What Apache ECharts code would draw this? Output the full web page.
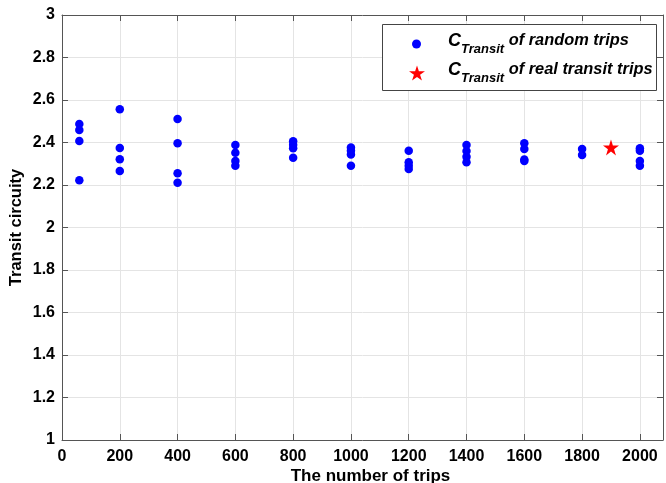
<!DOCTYPE html>
<html><head><meta charset="utf-8">
<script src="https://cdn.jsdelivr.net/npm/echarts@6/dist/echarts.min.js"></script>
<style>html,body{margin:0;padding:0;background:#fff}#c{width:666px;height:483px}</style>
</head><body><div id="c"></div>
<script>
const tripCounts = [60, 200, 400, 600, 800, 1000, 1200, 1400, 1600, 1800, 2000];
const randomValues = [
  [2.487, 2.459, 2.407, 2.222],
  [2.556, 2.374, 2.321, 2.266],
  [2.511, 2.396, 2.255, 2.211],
  [2.388, 2.352, 2.313, 2.291],
  [2.406, 2.39, 2.373, 2.328],
  [2.376, 2.361, 2.344, 2.291],
  [2.361, 2.307, 2.291, 2.275],
  [2.388, 2.36, 2.333, 2.307],
  [2.396, 2.369, 2.32, 2.313],
  [2.369, 2.341],
  [2.373, 2.361, 2.313, 2.291]
];
const realTrips = [1900];
const realValues = [2.377];
const xTicks = [0, 200, 400, 600, 800, 1000, 1200, 1400, 1600, 1800, 2000];

const randomData = [];
tripCounts.forEach((t, i) => randomValues[i].forEach(v => randomData.push([t, v])));
const realData = realTrips.map((t, i) => [t, realValues[i]]);

const star = 'path://M50,0 L61.8,36.3 L100,36.3 L69.1,58.8 L80.9,95.1 L50,72.7 L19.1,95.1 L30.9,58.8 L0,36.3 L38.2,36.3 Z';
const font = 'Liberation Sans, Arial, sans-serif';
const frame = '#555';
const chart = echarts.init(document.getElementById('c'));
const labelStyle = {color: '#000', fontWeight: 'bold', fontSize: 16, fontFamily: font};
const rich = {
  c: {fontSize: 18, fontWeight: 'bold', fontStyle: 'italic', fontFamily: font, color: '#000', verticalAlign: 'top', lineHeight: 24},
  s: {fontSize: 13, fontWeight: 'bold', fontStyle: 'italic', fontFamily: font, color: '#000', verticalAlign: 'bottom', lineHeight: 14, padding: [11, 0, 0, 0]},
  t: {fontSize: 16.4, fontWeight: 'bold', fontStyle: 'italic', fontFamily: font, color: '#000', verticalAlign: 'top', lineHeight: 24}
};
chart.setOption({
  animation: false,
  grid: {left: 62, right: 3, top: 15, bottom: 43, outerBoundsMode: 'none', containLabel: false},
  graphic: [{
    type: 'rect', z: 3, shape: {x: 382.5, y: 24.5, width: 274, height: 66},
    style: {fill: '#fff', stroke: '#444', lineWidth: 1}
  }],
  xAxis: [{
    type: 'value', min: 0, max: 2080, interval: 200,
    name: 'The number of trips', nameLocation: 'middle', nameGap: 28, nameMoveOverlap: false,
    nameTextStyle: {color: '#000', fontWeight: 'bold', fontSize: 17, fontFamily: font, padding: [0, 0, 0, 16]},
    axisLine: {onZero: false, lineStyle: {color: frame}},
    axisTick: {inside: true, length: 6, lineStyle: {color: frame}},
    axisLabel: Object.assign({margin: 9, showMaxLabel: false, formatter: v => xTicks.includes(v) ? String(v) : ''}, labelStyle),
    splitLine: {lineStyle: {color: '#e4e4e4'}}
  }, {
    type: 'value', position: 'top', min: 0, max: 2080, interval: 200,
    axisLine: {onZero: false, lineStyle: {color: frame}},
    axisTick: {inside: true, length: 6, lineStyle: {color: frame}},
    axisLabel: {show: false}, splitLine: {show: false}
  }],
  yAxis: [{
    type: 'value', min: 1, max: 3, interval: 0.2,
    name: 'Transit circuity', nameLocation: 'middle', nameGap: 37, nameMoveOverlap: false,
    nameTextStyle: {color: '#000', fontWeight: 'bold', fontSize: 16.5, fontFamily: font},
    axisLine: {onZero: false, lineStyle: {color: frame}},
    axisTick: {inside: true, length: 6, lineStyle: {color: frame}},
    axisLabel: Object.assign({margin: 7}, labelStyle),
    splitLine: {lineStyle: {color: '#e4e4e4'}}
  }, {
    type: 'value', position: 'right', min: 1, max: 3, interval: 0.2,
    axisLine: {onZero: false, lineStyle: {color: frame}},
    axisTick: {inside: true, length: 6, lineStyle: {color: frame}},
    axisLabel: {show: false}, splitLine: {show: false}
  }],
  legend: [{
    orient: 'vertical', left: 412, top: 32, padding: 0,
    itemWidth: 9, itemHeight: 9,
    data: [{name: 'random', icon: 'circle', itemStyle: {color: '#0000ff'}}],
    formatter: () => '{c|C}{s|Transit}{t| of random trips}',
    textStyle: {padding: [0, 0, 0, 22], rich: rich}
  }, {
    orient: 'vertical', left: 409, top: 61, padding: 0,
    itemWidth: 16, itemHeight: 16,
    data: [{name: 'real', icon: star, itemStyle: {color: '#ff0000'}}],
    formatter: () => '{c|C}{s|Transit}{t| of real transit trips}',
    textStyle: {padding: [0, 0, 0, 18], rich: rich}
  }],
  series: [{
    name: 'random', type: 'scatter', symbol: 'circle', symbolSize: 8.5,
    itemStyle: {color: '#0000ff', opacity: 1}, data: randomData
  }, {
    name: 'real', type: 'scatter', symbol: star, symbolSize: 16,
    itemStyle: {color: '#ff0000', opacity: 1}, data: realData
  }]
});
</script></body></html>
